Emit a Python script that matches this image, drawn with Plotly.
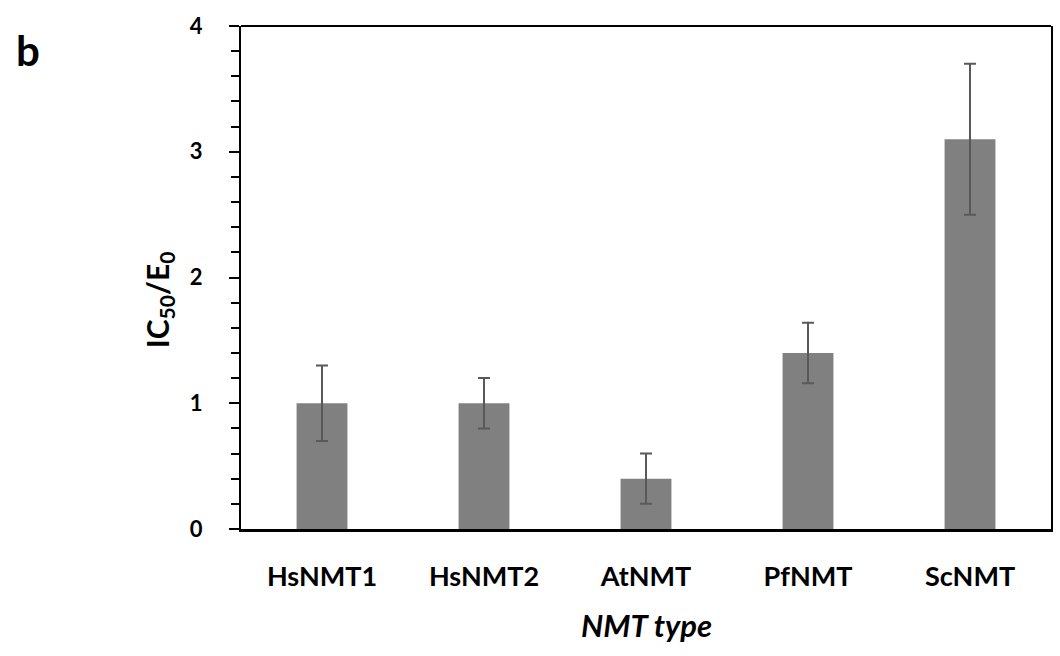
import plotly.graph_objects as go

categories = ["HsNMT1", "HsNMT2", "AtNMT", "PfNMT", "ScNMT"]
values = [1.0, 1.0, 0.4, 1.4, 3.1]
errors = [0.3, 0.2, 0.2, 0.24, 0.6]
y_ticks = [0, 1, 2, 3, 4]

FONT = "Lato"

fig = go.Figure()
fig.add_trace(go.Bar(
    x=categories, y=values,
    marker=dict(color="#808080", line=dict(width=0)),
    error_y=dict(type="data", array=errors, visible=True,
                 color="#595959", thickness=2, width=6),
))

L, R, T, B = 241, 7, 26, 127
W, H = 1060, 656
pw, ph = W - L - R, H - T - B

fig.update_layout(
    width=W, height=H,
    margin=dict(l=L, r=R, t=T, b=B, pad=0),
    paper_bgcolor="white", plot_bgcolor="white",
    bargap=0.686, showlegend=False,
    font=dict(family=FONT, color="black"),
)
fig.update_xaxes(
    showline=True, linecolor="black", linewidth=3, mirror=False,
    ticks="", showgrid=False,
    tickfont=dict(family=FONT, size=27, color="black", weight="bold"),
    ticklabelstandoff=22,
)
fig.update_yaxes(
    range=[0, 4], tickvals=y_ticks, ticktext=[str(v) for v in y_ticks],
    showline=True, linecolor="black", linewidth=2, mirror=True,
    ticks="outside", ticklen=10, tickwidth=2, tickcolor="black",
    minor=dict(dtick=0.2, ticks="outside", ticklen=8, tickwidth=2, tickcolor="black", showgrid=False),
    showgrid=False, zeroline=False,
    tickfont=dict(family=FONT, size=22, color="black", weight="bold"),
    ticklabelstandoff=22,
)
fig.add_shape(type="line", xref="paper", yref="paper", x0=0, x1=1, y0=1, y1=1,
              line=dict(color="black", width=2))

fig.add_annotation(
    text="IC<sub>50</sub>/E<sub>0</sub>", textangle=-90,
    xref="paper", yref="paper",
    x=(159 - L) / pw, y=(H - B - 300) / ph,
    xanchor="center", yanchor="middle", showarrow=False,
    font=dict(family=FONT, size=30, color="black", weight="bold"),
)
fig.add_annotation(
    text="<i>NMT type</i>",
    xref="paper", yref="paper",
    x=(647 - L) / pw, y=(H - B - 625) / ph,
    xanchor="center", yanchor="middle", showarrow=False,
    font=dict(family=FONT, size=31, color="black", weight="bold"),
)
fig.add_annotation(
    text="b",
    xref="paper", yref="paper",
    x=(27 - L) / pw, y=(H - B - 50) / ph,
    xanchor="center", yanchor="middle", showarrow=False,
    font=dict(family=FONT, size=42, color="black", weight="bold"),
)

fig.write_html("out.html")
